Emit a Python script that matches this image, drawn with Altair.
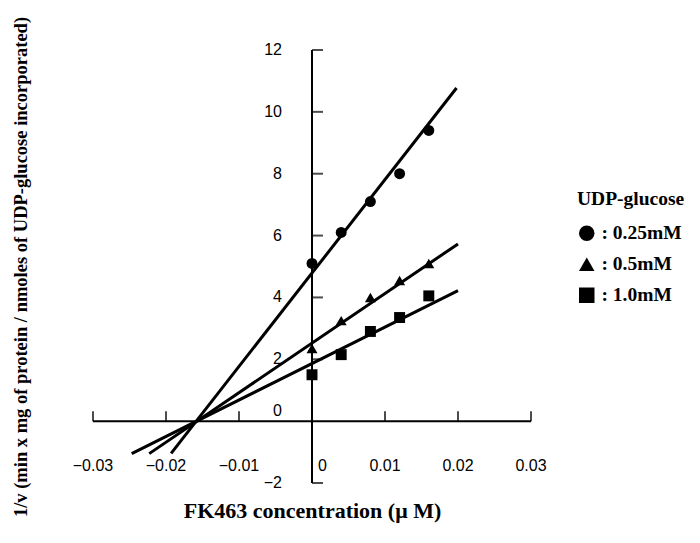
import altair as alt
import pandas as pd

# ---- data ----
conc = [0.0, 0.004, 0.008, 0.012, 0.016]
inv_v_025 = [5.1, 6.1, 7.1, 8.0, 9.4]
inv_v_05 = [2.35, 3.25, 4.0, 4.55, 5.1]
inv_v_10 = [1.5, 2.15, 2.9, 3.35, 4.05]
series_names = ["0.25mM", "0.5mM", "1.0mM"]
series_shapes = ["circle", "triangle-up", "square"]

# fitted lines: start / end points
line_x_start = [-0.0193, -0.0223, -0.0247]
line_y_start = [-1.04, -1.05, -1.05]
line_x_end = [0.0198, 0.0200, 0.0200]
line_y_end = [10.77, 5.73, 4.22]

x_ticks = [-0.03, -0.02, -0.01, 0.01, 0.02, 0.03]
x_tick_labels = ["\u22120.03", "\u22120.02", "\u22120.01", "0.01", "0.02", "0.03"]
y_ticks = [-2, 2, 4, 6, 8, 10, 12]
y_tick_labels = ["\u22122", "2", "4", "6", "8", "10", "12"]
origin_label = ["0"]

x_title = "FK463 concentration (\u03bc M)"
y_title = "1/v (min x mg of protein / nmoles of UDP-glucose incorporated)"
legend_title = "UDP-glucose"

# ---- tables ----
pts = pd.DataFrame({
    "x": conc * 3,
    "y": inv_v_025 + inv_v_05 + inv_v_10,
    "series": [s for s in series_names for _ in conc],
})
lines = pd.DataFrame({"x": line_x_start, "y": line_y_start,
                      "x2": line_x_end, "y2": line_y_end, "series": series_names})
xaxis_df = pd.DataFrame({"x": [min(x_ticks)], "x2": [max(x_ticks)], "y": [0]})
yaxis_df = pd.DataFrame({"x": [0], "y": [min(y_ticks)], "y2": [max(y_ticks)]})
xt_df = pd.DataFrame({"x": x_ticks, "y": [0] * len(x_ticks), "label": x_tick_labels})
yt_df = pd.DataFrame({"x": [0] * len(y_ticks), "y": y_ticks, "label": y_tick_labels})
zero_df = pd.DataFrame({"x": [0], "y": [0], "label": origin_label})

FONT_SANS = "Liberation Sans"
FONT_SERIF = "Liberation Serif"
TICK_FS = 16

xs = alt.Scale(domain=[min(x_ticks), max(x_ticks)], nice=False, zero=False)
ys = alt.Scale(domain=[min(y_ticks), max(y_ticks)], nice=False, zero=False)
x_axis = alt.Axis(title=x_title, domain=False, ticks=False, labels=False, grid=False,
                  titleFont=FONT_SERIF, titleFontSize=22, titleFontWeight="bold",
                  titleColor="black", titlePadding=17)
y_axis = alt.Axis(title=y_title, domain=False, ticks=False, labels=False, grid=False,
                  titleFont=FONT_SERIF, titleFontSize=18.5, titleFontWeight="bold",
                  titleColor="black", titlePadding=63)


def X(f="x"):
    return alt.X(f + ":Q", scale=xs, axis=x_axis)


def Y(f="y"):
    return alt.Y(f + ":Q", scale=ys, axis=y_axis)


axis_x = alt.Chart(xaxis_df).mark_rule(color="black", strokeWidth=2).encode(
    x=X(), x2="x2:Q", y=Y())
axis_y = alt.Chart(yaxis_df).mark_rule(color="black", strokeWidth=2).encode(
    x=X(), y=Y(), y2="y2:Q")
xticks = alt.Chart(xt_df).mark_tick(orient="vertical", size=10, thickness=2,
                                    yOffset=-5, color="black").encode(x=X(), y=Y())
yticks = alt.Chart(yt_df).mark_tick(orient="horizontal", size=11, thickness=2,
                                    xOffset=5.5, color="black").encode(x=X(), y=Y())
xlabels = alt.Chart(xt_df).mark_text(font=FONT_SANS, fontSize=TICK_FS, color="black",
                                     align="center", baseline="middle", dy=45).encode(
    x=X(), y=Y(), text="label:N")
ylabels = alt.Chart(yt_df).mark_text(font=FONT_SANS, fontSize=TICK_FS, color="black",
                                     align="right", baseline="middle", dx=-30).encode(
    x=X(), y=Y(), text="label:N")
zero_x = alt.Chart(zero_df).mark_text(font=FONT_SANS, fontSize=TICK_FS, color="black",
                                      align="left", baseline="middle", dx=6, dy=45).encode(
    x=X(), y=Y(), text="label:N")
zero_y = alt.Chart(zero_df).mark_text(font=FONT_SANS, fontSize=TICK_FS, color="black",
                                      align="right", baseline="middle", dx=-30, dy=-10).encode(
    x=X(), y=Y(), text="label:N")

fit = alt.Chart(lines).mark_rule(color="black", strokeWidth=3).encode(
    x=X(), y=Y(), x2="x2:Q", y2="y2:Q")

points = alt.Chart(pts).mark_point(filled=True, color="black", opacity=1, size=120).encode(
    x=X(), y=Y(),
    shape=alt.Shape("series:N",
                    scale=alt.Scale(domain=series_names, range=series_shapes),
                    legend=alt.Legend(
                        title=legend_title, orient="none", legendX=484, legendY=140,
                        titleFont=FONT_SERIF, titleFontSize=19.5, titleFontWeight="bold",
                        titleColor="black", titlePadding=14,
                        labelFont=FONT_SERIF, labelFontSize=19.5, labelFontWeight="bold",
                        labelColor="black", labelOffset=5,
                        labelExpr="': ' + datum.label",
                        symbolSize=240, symbolFillColor="black",
                        symbolStrokeColor="black", symbolStrokeWidth=0,
                        rowPadding=10)),
)

chart = alt.layer(axis_x, axis_y, xticks, yticks, xlabels, ylabels, zero_x, zero_y,
                  fit, points).properties(
    width=438, height=433,
    autosize=alt.AutoSizeParams(type="none"),
    padding={"left": 85, "top": 42, "right": 160, "bottom": 52},
).configure_view(stroke=None)

chart.save("out.html", embed_options={"renderer": "svg", "actions": False})
